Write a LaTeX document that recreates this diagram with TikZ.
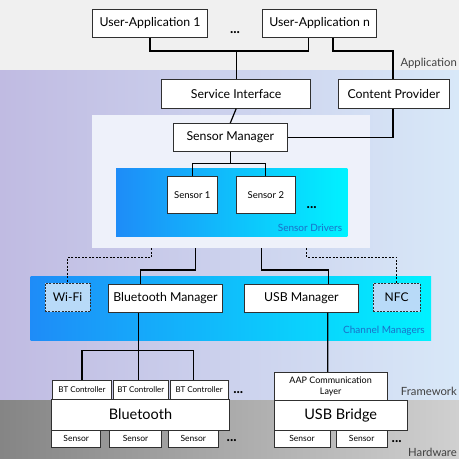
\documentclass[tikz,border=0pt]{standalone}
\usepackage{fontspec}
\setmainfont{Lato}
\usetikzlibrary{calc}
\definecolor{topgray}{HTML}{F0F0F0}
\definecolor{fwleft}{HTML}{C0BBE2}
\definecolor{fwright}{HTML}{D8E8F8}
\definecolor{panelc}{HTML}{EEF1FA}
\definecolor{blueleft}{HTML}{1E8CF8}
\definecolor{blueright}{HTML}{00F2FF}
\definecolor{hwleft}{HTML}{858585}
\definecolor{hwright}{HTML}{D0D0D0}
\definecolor{labelblue}{HTML}{1A6FC8}
\definecolor{dashfill}{HTML}{B8DAF8}
\definecolor{boxline}{HTML}{303030}
\begin{document}
\begin{tikzpicture}[x=1pt,y=-1pt,
  box/.style={draw=boxline,line width=0.7pt,fill=white,inner sep=0pt,font=\fontsize{12.3}{14}\selectfont},
  dbox/.style={draw=boxline,line width=0.9pt,dash pattern=on 2pt off 1.3pt,fill=dashfill,inner sep=0pt,font=\fontsize{12}{14}\selectfont},
  conn/.style={line width=1.2pt,black},
  dconn/.style={line width=1.2pt,black,dash pattern=on 2pt off 1.5pt},
  dots/.style={font=\bfseries\fontsize{14}{14}\selectfont,inner sep=0pt},
  layer/.style={font=\fontsize{11.3}{13}\selectfont,text=black!75,inner sep=0pt,anchor=east},
  plabel/.style={font=\fontsize{10}{12}\selectfont,text=labelblue,inner sep=0pt,anchor=east}]
\useasboundingbox (0,0) rectangle (459,459);
\clip (0,0) rectangle (459,459);
% backgrounds
\fill[topgray] (0,0) rectangle (459,70.7);
\shade[left color=fwleft,right color=fwright] (0,70.7) rectangle (459,400);
\shade[left color=hwleft,right color=hwright] (0,400) rectangle (459,459);
\node[fill=panelc,minimum width=278.3pt,minimum height=133.3pt,inner sep=0pt] (fw) at (230.85,181.65) {};
\shade[left color=blueleft,right color=blueright] (116,168.3) rectangle (347.3,236.7);
\shade[left color=blueleft,right color=blueright] (30.7,276) rectangle (431,340);
% layer labels
\node[layer] (lapp) at (457,63.5) {Application};
\node[layer] (lfw) at (457,391.5) {Framework};
\node[layer] (lhw) at (457,452) {Hardware};
\node[plabel] (lsd) at (342.3,228.3) {Sensor Drivers};
\node[plabel] (lcm) at (425,331) {Channel Managers};
% coordinates
\coordinate (j1) at (236.2,51);
\coordinate (c1) at (393,51);
\coordinate (d1) at (151.7,248.3);
\coordinate (d2) at (195.7,248.3);
\coordinate (d3) at (261.7,248.3);
\coordinate (d4) at (306.7,248.3);
% nodes
\node[box,minimum width=114.6pt,minimum height=28pt] (ua1) at (150,23.3) {User-Application 1};
\node[box,minimum width=114pt,minimum height=28pt] (uan) at (319.7,23.3) {User-Application n};
\node[box,minimum width=149pt,minimum height=29pt] (si) at (236.2,93.8) {Service Interface};
\node[box,minimum width=114pt,minimum height=28.4pt] (sm) at (230.3,137.5) {Sensor Manager};
% line behind content provider
\draw[conn] ([xshift=13.3pt]uan.south) |- (c1) |- (sm.east);
\node[box,minimum width=111pt,minimum height=29pt] (cp) at (393.8,93.8) {Content Provider};
\node[box,minimum width=50pt,minimum height=36.6pt,font=\fontsize{9.5}{10}\selectfont] (s1) at (192.3,195) {Sensor 1};
\node[box,minimum width=58.3pt,minimum height=36.6pt,font=\fontsize{9.5}{10}\selectfont] (s2) at (265.85,195) {Sensor 2};
\node[dbox,minimum width=45pt,minimum height=28.4pt] (wifi) at (67.5,297.5) {Wi-Fi};
\node[box,minimum width=114.4pt,minimum height=28pt] (btm) at (165.5,298.3) {Bluetooth Manager};
\node[box,minimum width=114pt,minimum height=28pt] (usbm) at (301.3,298.3) {USB Manager};
\node[dbox,minimum width=46.7pt,minimum height=28.4pt] (nfc) at (396.65,297.5) {NFC};
\node[box,minimum width=59.4pt,minimum height=19pt,font=\fontsize{8}{9}\selectfont] (btc1) at (82,389.5) {BT Controller};
\node[box,minimum width=55pt,minimum height=19pt,font=\fontsize{8}{9}\selectfont] (btc2) at (140.8,389.5) {BT Controller};
\node[box,minimum width=58.3pt,minimum height=19pt,font=\fontsize{8}{9}\selectfont] (btc3) at (199.15,389.5) {BT Controller};
\node[box,minimum width=177.6pt,minimum height=31pt,font=\fontsize{14.5}{16}\selectfont] (bt) at (140.5,414.5) {Bluetooth};
\node[box,minimum width=49pt,minimum height=17.7pt,font=\fontsize{8.5}{9}\selectfont] (bs1) at (76.2,438.85) {Sensor};
\node[box,minimum width=52.4pt,minimum height=17.7pt,font=\fontsize{8.5}{9}\selectfont] (bs2) at (135.5,438.85) {Sensor};
\node[box,minimum width=50pt,minimum height=17.7pt,font=\fontsize{8.5}{9}\selectfont] (bs3) at (193.3,438.85) {Sensor};
\node[box,minimum width=113.3pt,minimum height=27.7pt,align=center,font=\fontsize{9}{11}\selectfont] (aap) at (330.65,386.15) {AAP Communication\\Layer};
\node[box,minimum width=133.3pt,minimum height=30pt,font=\fontsize{14.5}{16}\selectfont] (usbb) at (340.65,415) {USB Bridge};
\node[box,minimum width=56pt,minimum height=17.7pt,font=\fontsize{8.5}{9}\selectfont] (us1) at (302,438.85) {Sensor};
\node[box,minimum width=51.3pt,minimum height=17.7pt,font=\fontsize{8.5}{9}\selectfont] (us2) at (361.65,438.85) {Sensor};
% dots
\node[dots] (dt1) at (235,32.5) {...};
\node[dots] (dt2) at (311.7,208) {...};
\node[dots] (dt3) at (238.3,393) {...};
\node[dots] (dt4) at (231.7,441) {...};
\node[dots] (dt5) at (396.7,442) {...};
% connectors
\draw[conn] (ua1.south) |- (j1) -| ([xshift=-11.4pt]uan.south);
\draw[conn] (j1) -- (si.north);
\draw[conn] (si.south) -- (sm.north);
\draw[conn] (sm.south) -- ++(0,11.2) coordinate (j2);
\draw[conn] (s1.north) |- (j2) -| (s2.north);
\draw[dconn] (d1) |- ++(-40,9) -| (wifi.north);
\draw[conn] (d2) |- ++(-30,21.7) -| ([xshift=-24.8pt]btm.north);
\draw[conn] (d3) |- ++(30,21.7) -| ([xshift=27pt]usbm.north);
\draw[dconn] (d4) |- ++(40,9) -| (nfc.north);
\draw[conn] ([xshift=-27.2pt]btm.south) -- ([xshift=-2.5pt]btc2.north);
\draw[conn] (btc1.north) |- ([xshift=-2.5pt,yshift=29.3pt]btc2.north) -| ([xshift=-5.8pt]btc3.north);
\draw[conn] ([xshift=26.4pt]usbm.south) -- ([xshift=-3pt]aap.north);
\end{tikzpicture}
\end{document}
